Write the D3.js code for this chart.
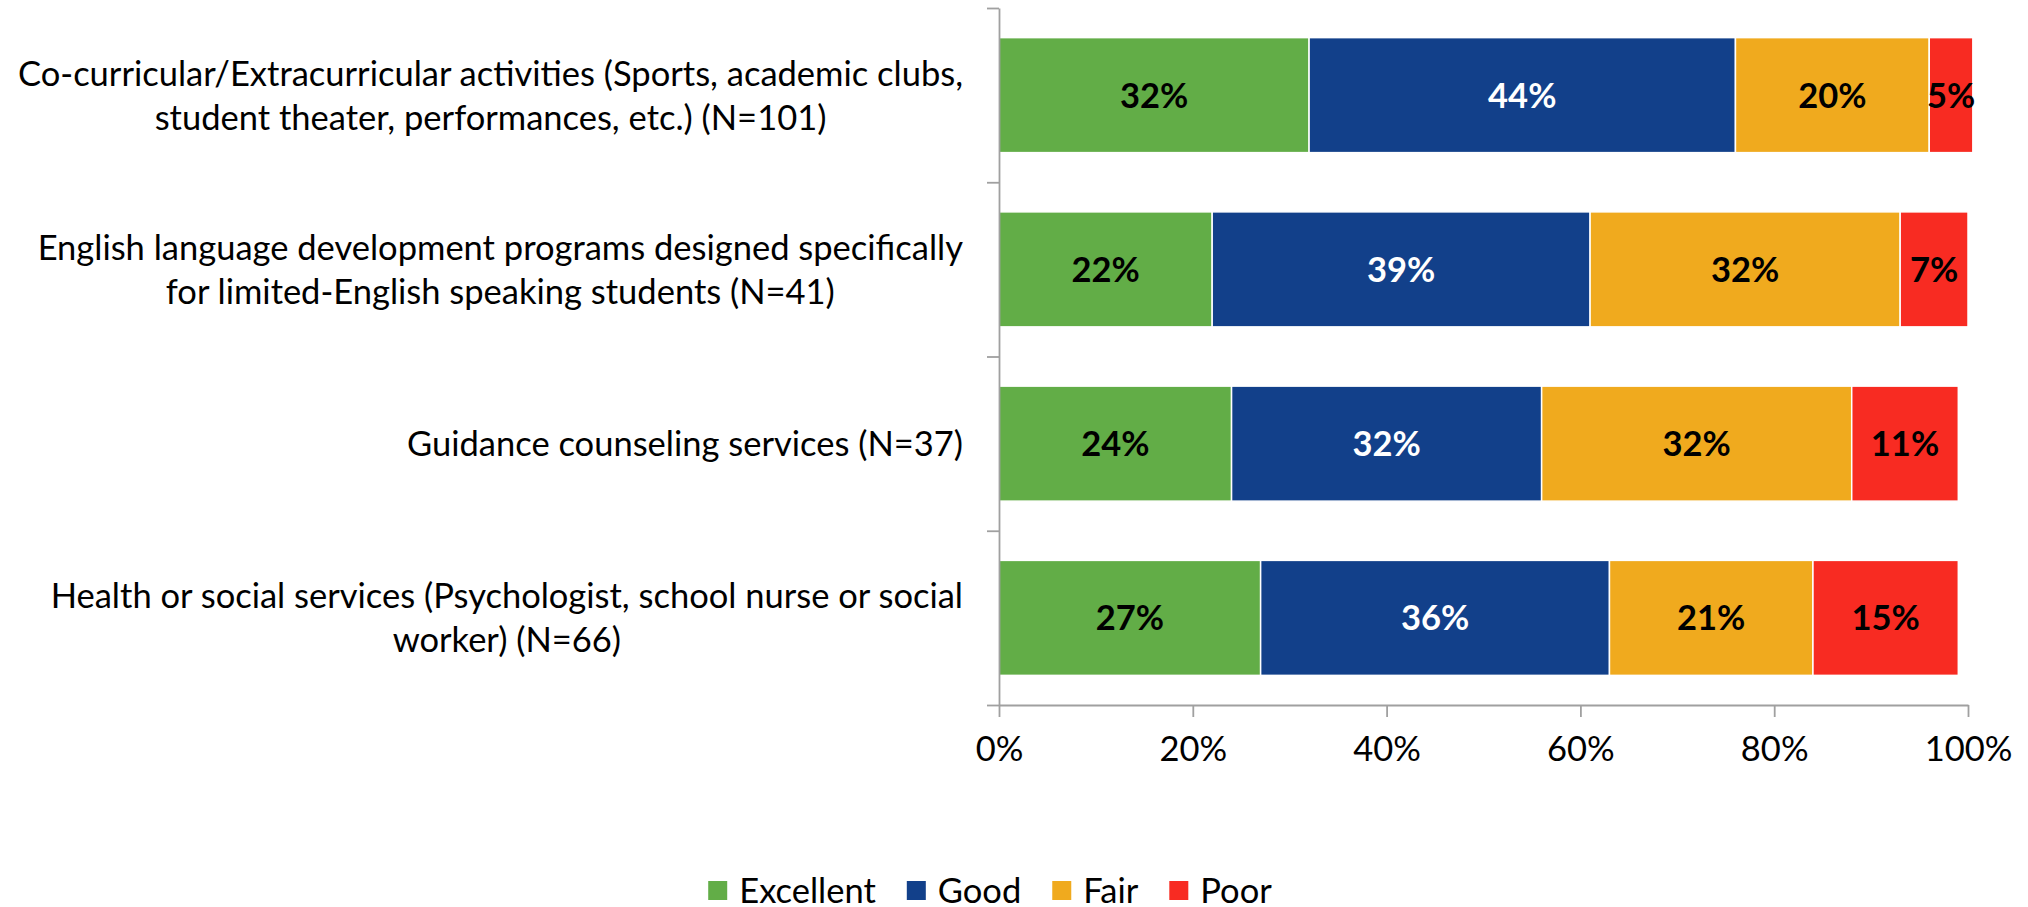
<!DOCTYPE html>
<html>
<head>
<meta charset="utf-8">
<script src="https://cdn.jsdelivr.net/npm/d3@7"></script>
<style>
  body { margin: 0; background: #fff; }
  text { font-family: Lato, "Open Sans", sans-serif; fill: #000; }
</style>
</head>
<body>
<svg></svg>
<script>
// categories, one list of lines per label
let categories = [
    ["Co-curricular/Extracurricular activities (Sports, academic clubs,", "student theater, performances, etc.) (N=101)"],
    ["English language development programs designed specifically", "for limited-English speaking students (N=41)"],
    ["Guidance counseling services (N=37)"],
    ["Health or social services (Psychologist, school nurse or social", "worker) (N=66)"]
]
let seriesNames = ["Excellent", "Good", "Fair", "Poor"]
let excellent = [32, 22, 24, 27]
let good = [44, 39, 32, 36]
let fair = [20, 32, 32, 21]
let poor = [4.5, 7, 11, 15]
let xTicks = [0, 20, 40, 60, 80, 100]

let colors = ["#62ad47", "#12408a", "#f0aa1e", "#f82b22"]
let labelColors = ["#000", "#fff", "#000", "#000"]

let svgWidth = 2028, svgHeight = 907
let fontSize = 34.5
let svg = d3.select('svg').attr('width', svgWidth).attr('height', svgHeight)

let rows = categories.map((c, i) => ({
    idx: i, Excellent: excellent[i], Good: good[i], Fair: fair[i], Poor: poor[i]
}))
let stacked = d3.stack().keys(seriesNames)(rows)

let x = d3.scaleLinear().domain([0, 100]).range([999, 1968])
let y = d3.scaleBand().domain(d3.range(categories.length))
    .range([8, 705]).paddingInner(0.34).paddingOuter(0.17)

// bars
let layer = svg.append('g').selectAll('g').data(stacked).enter().append('g')
    .attr('fill', (d, i) => colors[i])

layer.selectAll('rect').data(d => d).enter().append('rect')
    .attr('x', d => x(d[0]))
    .attr('y', d => y(d.data.idx))
    .attr('width', d => x(d[1]) - x(d[0]))
    .attr('height', y.bandwidth())
    .attr('stroke', '#fff')
    .attr('stroke-width', 1.5)

// value labels
layer.selectAll('text').data(d => d).enter().append('text')
    .attr('x', d => (x(d[0]) + x(d[1])) / 2)
    .attr('y', d => y(d.data.idx) + y.bandwidth() / 2)
    .attr('dy', '0.36em')
    .attr('text-anchor', 'middle')
    .style('font-size', fontSize + 'px')
    .style('font-weight', 'bold')
    .style('fill', function () { return labelColors[stacked.indexOf(d3.select(this.parentNode).datum())] })
    .text(d => Math.round(d[1] - d[0]) + '%')

// category axis
let boundary = d3.scaleLinear().domain([0, categories.length]).range([8, 705])
let yAxis = svg.append('g').attr('transform', 'translate(999,0)')
    .call(d3.axisLeft(boundary).ticks(categories.length).tickFormat('').tickSize(12).tickSizeOuter(0))
yAxis.selectAll('path, line').attr('stroke', '#a0a0a0').attr('stroke-width', 1.8)

// x axis
let xAxis = svg.append('g').attr('transform', 'translate(0,705)')
    .call(d3.axisBottom(x).tickValues(xTicks).tickFormat(d => d + '%').tickSize(12).tickSizeOuter(0).tickPadding(20))
xAxis.selectAll('path, line').attr('stroke', '#a0a0a0').attr('stroke-width', 1.8)
xAxis.selectAll('text').style('font-size', fontSize + 'px').attr('fill', '#000')

// category labels, centered lines, block right-aligned
let lineH = 44
categories.forEach((lines, i) => {
    let g = svg.append('g')
    let cy = y(i) + y.bandwidth() / 2
    let texts = lines.map((l, j) => g.append('text')
        .attr('y', cy + (j - (lines.length - 1) / 2) * lineH)
        .attr('dy', '0.36em')
        .attr('text-anchor', 'middle')
        .style('font-size', fontSize + 'px')
        .text(l))
    let maxW = d3.max(texts, t => t.node().getComputedTextLength())
    texts.forEach(t => t.attr('x', 963 - maxW / 2))
})

// legend
let legend = svg.append('g')
let lx = 0
seriesNames.forEach((name, i) => {
    legend.append('rect').attr('x', lx).attr('y', -10).attr('width', 19).attr('height', 19).attr('fill', colors[i])
    let t = legend.append('text').attr('x', lx + 31).attr('y', 0).attr('dy', '0.36em')
        .style('font-size', fontSize + 'px').text(name)
    lx += 31 + t.node().getComputedTextLength() + 31
})
let legendW = lx - 31
legend.attr('transform', 'translate(' + (990 - legendW / 2) + ',891)')
</script>
</body>
</html>
